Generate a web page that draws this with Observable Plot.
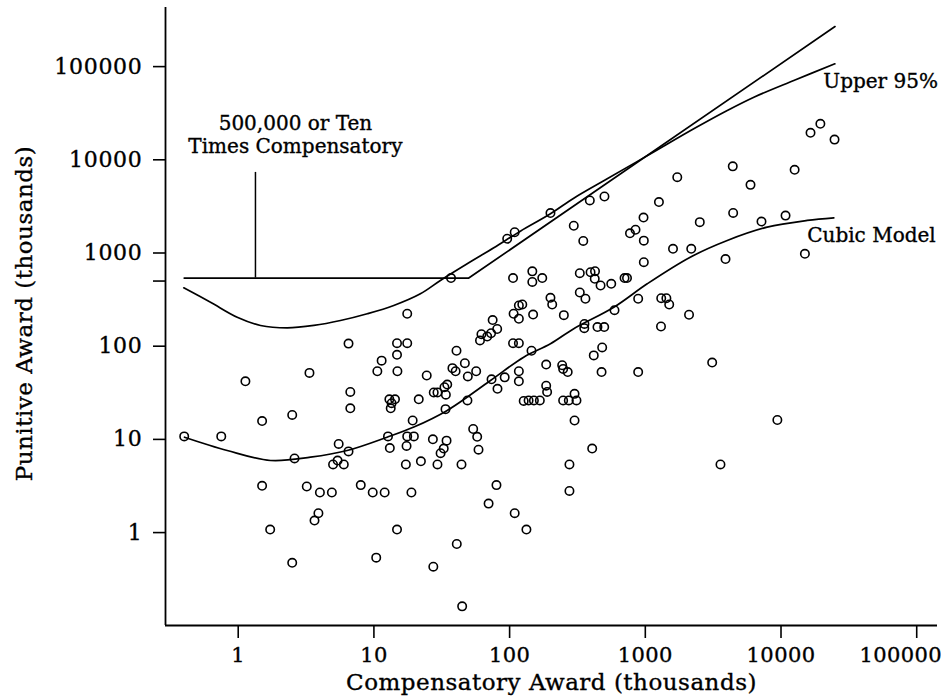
<!DOCTYPE html>
<html><head><meta charset="utf-8">
<script src="https://cdn.jsdelivr.net/npm/d3@7"></script>
<script src="https://cdn.jsdelivr.net/npm/@observablehq/plot@0.6"></script>
<style>
html,body{margin:0;padding:0;background:#fff;}
#chart svg text{stroke:#000;stroke-width:0.35px;}
#chart g[aria-label="y-axis tick label"] text{letter-spacing:0.7px;}
#chart g[aria-label="x-axis tick label"] text, #chart g.xlab text{letter-spacing:0.4px;}
#chart g.title text{letter-spacing:0.5px;}
</style>
</head><body><div id="chart"></div>
<script>
// Compensatory award (thousands) and punitive award (thousands) for each case
const compensatory = [0.4,0.75,1.13,1.5,1.5,1.72,2.5,2.6,2.5,3.35,3.2,3.9,3.65,4.0,4.9,5.0,5.5,5.4,6.0,6.5,6.5,6.7,6.7,8.0,9.8,10.4,10.6,11.4,12.0,12.7,13.1,13.0,13.3,14.3,13.5,14.8,14.8,14.9,17.6,14.8,17.2,17.4,17.6,19.7,18.9,19.3,21.4,22.2,24.5,27.2,27.4,27.6,29.4,29.4,31,32.7,34.3,33.1,34.7,33.9,33.7,37.9,40,40.6,40.8,44.2,44.7,46.8,48.9,49.2,53.9,57.7,56.7,59,
75,81,73,62,60.5,68.4,
73.6,81.4,80,70,92,109,106,117,117,117,127,138,151,167,133,145,186,186,189,
37,106,147,147,174,200,206,117,124,107,117,149,17.6,96,109,200,
390,500,297,349,1720,1260,970,771,847,975,975,1600,2180,2520,4410,5960,4440,7180,10800,12600,16500,19500,24800,3900,15000,329,395,426,424,468,561,703,733,329,362,251,593,886,1310,1430,1500,2100,356,355,444,498,1305,481,417,244,248,268,476,886,3110,248,273,311,301,301,9400,406,276,3580,276];
const punitive = [10,10,39,14.6,2.95,1.0,17,5.8,0.44,48,2.9,1.5,1.25,2.5,2.5,5.0,8.3,5.5,5.0,6.9,99,30,20,3.0,2.5,0.5,50,65,2.5,10,7.5,25,20,25,22.7,100,75,50,100,1.0,5.0,7.9,10,10,2.5,14.8,25,5.4,45,9.3,0.4,29.6,29.6,5.0,6.6,7.4,9.0,33.7,36,28,19.6,54,50,83,0.7,5.0,0.15,61,24.3,44,12,9.9,50,7.2,
177,142,128,125,107,118,
41,32.4,3.0,1.9,43,1.5,100,100,50,39,24,24.3,24.3,24.3,1.0,83,59,35,30,
500,500,590,454,500,307,260,254,260,207,183,203,207,1320,1550,2490,
3400,3750,1820,1250,6040,3270,2230,1510,1650,1260,740,1030,1030,1990,7900,5000,2500,2020,2340,7250,18100,22600,15300,800,910,564,578,592,491,416,434,500,500,350,300,200,226,300,304,304,260,202,161,145,149,149,151,90,74,58,53,49,49,49,62,24.3,24.3,24.3,28.6,14.8,15,7.4,5.0,5.0,2.6];

// Fitted cubic model
const cubicX = [0.402,0.83,1.73,3.41,6.35,12.5,19.7,34.7,72.3,127,200,297,586,1033,2143,4018,7907,15600,24500];
const cubicY = [9.8,7.05,5.51,5.98,7.05,9.8,12.6,19.0,39.8,70.8,98.6,143,243,434,837,1265,1758,2075,2213];

// Upper 95% bound
const upperX = [0.397,0.625,0.983,1.46,2.30,3.61,5.67,8.93,14.0,22.0,30.9,48.7,76.5,120,200,297,524,1094,2275,4018,6310,12420,24950];
const upperY = [393,275,190,155,146,155,175,207,254,339,471,711,1056,1592,2445,3597,5808,10770,19970,31400,43600,65900,99500];

// Cap: 500,000 or ten times compensatory
const capX = [0.4, 50, 25000];
const capY = [500, 500, 250000];
const pointerX = [1.34], pointerFrom = [500], pointerTo = [6800];

const xTicks = [1,10,100,1000,10000,100000];
const yTicks = [1,10,100,500,1000,10000,100000];
const xTitle = "Compensatory Award (thousands)";
const yTitle = "Punitive Award (thousands)";
const noteText = ["500,000 or Ten", "Times Compensatory"];
const noteX = [2.64, 2.64];
const noteY = [22500, 12740];
const curveText = ["Upper 95%", "Cubic Model"];
const curveTextX = [20500, 15600];
const curveTextY = [64300, 1431];

const xDomain = [0.2912, 142300];
const yDomain = [0.0935, 400000];

const pts = compensatory.map((c, i) => ({c, p: punitive[i]}));
const cubic = cubicX.map((x, i) => ({x, y: cubicY[i]}));
const upper = upperX.map((x, i) => ({x, y: upperY[i]}));
const cap = capX.map((x, i) => ({x, y: capY[i]}));
const notes = noteText.map((t, i) => ({t, x: noteX[i], y: noteY[i]}));
const curveLabels = curveText.map((t, i) => ({t, x: curveTextX[i], y: curveTextY[i]}));
const lastTick = xTicks[xTicks.length - 1];

const fmt = d => String(d);

const chart = Plot.plot({
  width: 941, height: 698,
  marginLeft: 165, marginRight: 4, marginTop: 7, marginBottom: 73,
  style: {fontFamily: "'DejaVu Serif', serif", background: "#fff", color: "#000"},
  x: {type: "log", domain: xDomain},
  y: {type: "log", domain: yDomain},
  marks: [
    Plot.ruleX([xDomain[0]], {stroke: "#000", strokeWidth: 1.8}),
    Plot.ruleY([yDomain[0]], {stroke: "#000", strokeWidth: 1.8}),
    Plot.axisX({ticks: xTicks, tickFormat: d => d === lastTick ? "" : fmt(d), tickSize: 13, tickPadding: 9, fontSize: 21, strokeWidth: 1.6, label: null}),
    Plot.text([lastTick], {x: d => d, frameAnchor: "bottom", dy: 22, dx: -16, lineAnchor: "top", textAnchor: "middle", text: fmt, fontSize: 21, fill: "#000", className: "xlab"}),
    Plot.axisY({ticks: yTicks, tickFormat: fmt, tickSize: 12, tickPadding: 11, fontSize: 22, strokeWidth: 1.6, dy: 3, label: null}),
    Plot.line(cap, {x: "x", y: "y", stroke: "#000", strokeWidth: 1.7}),
    Plot.line(upper, {x: "x", y: "y", stroke: "#000", strokeWidth: 1.7, curve: "catmull-rom"}),
    Plot.line(cubic, {x: "x", y: "y", stroke: "#000", strokeWidth: 1.7, curve: "catmull-rom"}),
    Plot.ruleX(pointerX, {y1: pointerFrom, y2: pointerTo, stroke: "#000", strokeWidth: 1.5}),
    Plot.dot(pts, {x: "c", y: "p", r: 4.2, stroke: "#000", strokeWidth: 1.6, fill: "none"}),
    Plot.text(notes, {x: "x", y: "y", text: "t", textAnchor: "middle", lineAnchor: "middle", fontSize: 20, fill: "#000"}),
    Plot.text(curveLabels, {x: "x", y: "y", text: "t", textAnchor: "start", lineAnchor: "middle", fontSize: 20, fill: "#000"}),
    Plot.text([xTitle], {frameAnchor: "bottom", dy: 57, textAnchor: "middle", lineAnchor: "middle", fontSize: 23, fill: "#000", className: "title"}),
    Plot.text([yTitle], {frameAnchor: "left", rotate: -90, dx: -141, dy: -3, textAnchor: "middle", lineAnchor: "middle", fontSize: 23, fill: "#000", className: "title"})
  ]
});
document.getElementById("chart").appendChild(chart);
</script>
</body></html>
